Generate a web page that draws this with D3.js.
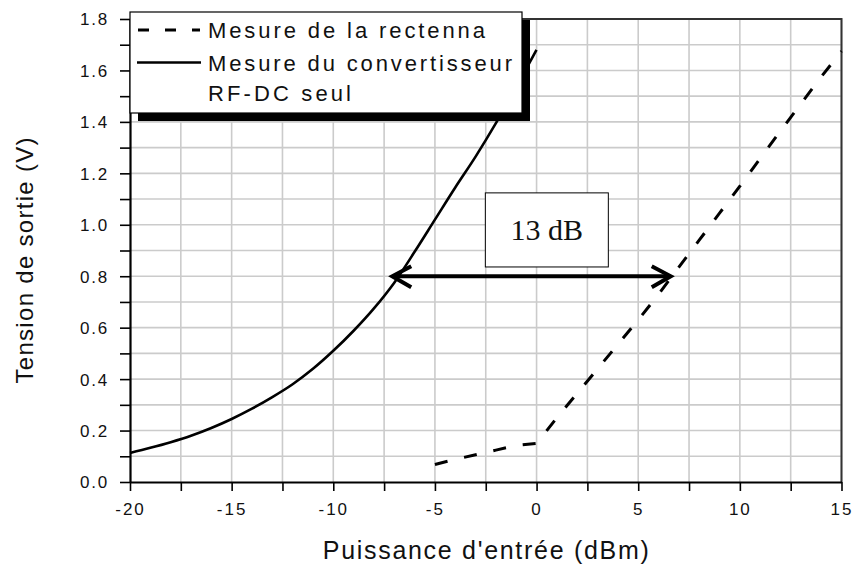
<!DOCTYPE html>
<html>
<head>
<meta charset="utf-8">
<script src="https://cdn.jsdelivr.net/npm/d3@7"></script>
<style>
  body { margin: 0; background: #fff; }
  svg { display: block; }
  text { font-family: "Liberation Sans", Arial, sans-serif; fill: #111; }
</style>
</head>
<body>
<svg id="chart" width="856" height="567"></svg>
<script>
// Rectenna measurement (dashed)
const rectennaPower = [-5, -4, -3, -2, -1, 0, 0.5, 1, 2, 3, 4, 5, 6, 7, 8, 9, 10, 11, 12, 13, 14, 15];
const rectennaVolt  = [0.068, 0.088, 0.106, 0.124, 0.142, 0.150, 0.200, 0.250, 0.345, 0.440, 0.535, 0.630, 0.730, 0.835, 0.940, 1.045, 1.150, 1.258, 1.365, 1.470, 1.575, 1.675];

// RF-DC converter alone (solid)
const converterPower = [-20, -19, -18, -17, -16, -15, -14, -13, -12, -11, -10, -9, -8, -7, -6, -5, -4, -3, -2, -1, 0];
const converterVolt  = [0.113, 0.133, 0.155, 0.180, 0.210, 0.245, 0.285, 0.330, 0.380, 0.440, 0.510, 0.588, 0.675, 0.775, 0.895, 1.020, 1.145, 1.265, 1.395, 1.535, 1.680];

// Axis ticks
const xTickLabels = [-20, -15, -10, -5, 0, 5, 10, 15];
const yTickLabels = [0, 0.2, 0.4, 0.6, 0.8, 1.0, 1.2, 1.4, 1.6, 1.8];

// Legend and annotation
const legendLabels = ["Mesure de la rectenna", "Mesure du convertisseur", "RF-DC seul"];
const gapLabel = "13 dB";
const gapArrowPower = [-7.1, 6.6];
const gapArrowVolt = 0.8;
const gapBoxPower = [-2.52, 3.53];
const gapBoxVolt = [0.836, 1.124];

const svg = d3.select("#chart");
const plotL = 130, plotR = 841.5, plotT = 19, plotB = 482;

const x = d3.scaleLinear().domain([-20, 15]).range([plotL, plotR]);
const y = d3.scaleLinear().domain([0, 1.8]).range([plotB, plotT]);

const xMinor = d3.range(15).map(i => -20 + i * 2.5);
const yMinor = d3.range(19).map(i => i / 10);

// grid
const grid = svg.append("g").attr("stroke", "#cbcbcb").attr("stroke-width", 1.6);
grid.selectAll("line.v").data(xMinor.slice(1)).join("line")
  .attr("x1", d => x(d)).attr("x2", d => x(d))
  .attr("y1", plotT).attr("y2", plotB);
grid.selectAll("line.h").data(yMinor.slice(1)).join("line")
  .attr("y1", d => y(d)).attr("y2", d => y(d))
  .attr("x1", plotL).attr("x2", plotR);

// frame (top and right)
svg.append("path")
  .attr("d", `M${plotL},${plotT}H${plotR}V${plotB}`)
  .attr("fill", "none").attr("stroke", "#333").attr("stroke-width", 2);

// curves
svg.append("path")
  .datum(converterPower.map((p, i) => [p, converterVolt[i]]))
  .attr("d", d3.line().x(d => x(d[0])).y(d => y(d[1])).curve(d3.curveMonotoneX))
  .attr("fill", "none").attr("stroke", "#000").attr("stroke-width", 2.6);

svg.append("path")
  .datum(rectennaPower.map((p, i) => [p, rectennaVolt[i]]))
  .attr("d", d3.line().x(d => x(d[0])).y(d => y(d[1])))
  .attr("fill", "none").attr("stroke", "#000").attr("stroke-width", 3)
  .attr("stroke-dasharray", "13,17");

// x axis
const xAxis = d3.axisBottom(x)
  .tickValues(xMinor)
  .tickSize(9).tickSizeOuter(0).tickPadding(8)
  .tickFormat(d => xTickLabels.includes(d) ? String(d) : "");
const gx = svg.append("g").attr("transform", `translate(0,${plotB})`).call(xAxis);
gx.select(".domain").attr("stroke", "#000").attr("stroke-width", 2.2);
gx.selectAll(".tick line").attr("stroke", "#000").attr("stroke-width", 1.6);
gx.selectAll(".tick text")
  .style("font-family", "'Liberation Sans', Arial, sans-serif")
  .attr("fill", "#111")
  .attr("font-size", 17).attr("letter-spacing", 2).attr("dy", "0.95em");

// y axis
const yAxis = d3.axisLeft(y)
  .tickValues(yMinor)
  .tickSize(10).tickSizeOuter(0).tickPadding(11)
  .tickFormat(d => yTickLabels.some(v => Math.abs(v - d) < 1e-9) ? d3.format(".1f")(d) : "");
const gy = svg.append("g").attr("transform", `translate(${plotL},0)`).call(yAxis);
gy.select(".domain").attr("stroke", "#000").attr("stroke-width", 2.2);
gy.selectAll(".tick line").attr("stroke", "#000").attr("stroke-width", 1.6);
gy.selectAll(".tick text")
  .style("font-family", "'Liberation Sans', Arial, sans-serif")
  .attr("fill", "#111")
  .attr("font-size", 17).attr("letter-spacing", 1.8).attr("dy", "0.35em");

// axis titles
svg.append("text")
  .attr("x", (plotL + plotR) / 2).attr("y", 559)
  .attr("text-anchor", "middle").attr("font-size", 25)
  .attr("textLength", 326).attr("lengthAdjust", "spacing")
  .text("Puissance d'entrée (dBm)");
svg.append("text")
  .attr("transform", `translate(33,${(plotT + plotB) / 2 + 10}) rotate(-90)`)
  .attr("text-anchor", "middle").attr("font-size", 24)
  .attr("textLength", 246).attr("lengthAdjust", "spacing")
  .text("Tension de sortie (V)");

// legend
const lg = svg.append("g");
lg.append("rect").attr("x", 138).attr("y", 20).attr("width", 392).attr("height", 101).attr("fill", "#000");
lg.append("rect").attr("x", 130).attr("y", 12).attr("width", 392).attr("height", 101)
  .attr("fill", "#fff").attr("stroke", "#000").attr("stroke-width", 1.2);
lg.append("line").attr("x1", 138).attr("x2", 200).attr("y1", 30).attr("y2", 30)
  .attr("stroke", "#000").attr("stroke-width", 3).attr("stroke-dasharray", "11,16");
lg.append("line").attr("x1", 137).attr("x2", 201).attr("y1", 62.5).attr("y2", 62.5)
  .attr("stroke", "#000").attr("stroke-width", 2.6);
const legendRows = [
  { text: legendLabels[0], y: 38, w: 277 },
  { text: legendLabels[1], y: 70.5, w: 304 },
  { text: legendLabels[2], y: 101, w: 143 }
];
lg.selectAll("text.lab").data(legendRows).join("text")
  .attr("x", 208).attr("y", d => d.y)
  .attr("font-size", 22)
  .attr("textLength", d => d.w).attr("lengthAdjust", "spacing")
  .text(d => d.text);

// 13 dB gap annotation
const ay = y(gapArrowVolt);
const ax0 = x(gapArrowPower[0]), ax1 = x(gapArrowPower[1]);
const ann = svg.append("g").attr("fill", "none").attr("stroke", "#000").attr("stroke-width", 4);
ann.append("line").attr("x1", ax0 + 2).attr("x2", ax1 - 2).attr("y1", ay).attr("y2", ay);
ann.append("path").attr("d", `M${ax0 + 19},${ay - 10}L${ax0},${ay}L${ax0 + 19},${ay + 11}`);
ann.append("path").attr("d", `M${ax1 - 19},${ay - 10}L${ax1},${ay}L${ax1 - 19},${ay + 11}`);

svg.append("rect")
  .attr("x", x(gapBoxPower[0])).attr("y", y(gapBoxVolt[1]))
  .attr("width", x(gapBoxPower[1]) - x(gapBoxPower[0]))
  .attr("height", y(gapBoxVolt[0]) - y(gapBoxVolt[1]))
  .attr("fill", "#fff").attr("stroke", "#000").attr("stroke-width", 1);
svg.append("text")
  .attr("x", (x(gapBoxPower[0]) + x(gapBoxPower[1])) / 2)
  .attr("y", (y(gapBoxVolt[0]) + y(gapBoxVolt[1])) / 2 + 10)
  .attr("text-anchor", "middle")
  .style("font-family", "'Liberation Serif', 'Times New Roman', serif")
  .attr("fill", "#000")
  .attr("font-size", 30)
  .text(gapLabel);
</script>
</body>
</html>
